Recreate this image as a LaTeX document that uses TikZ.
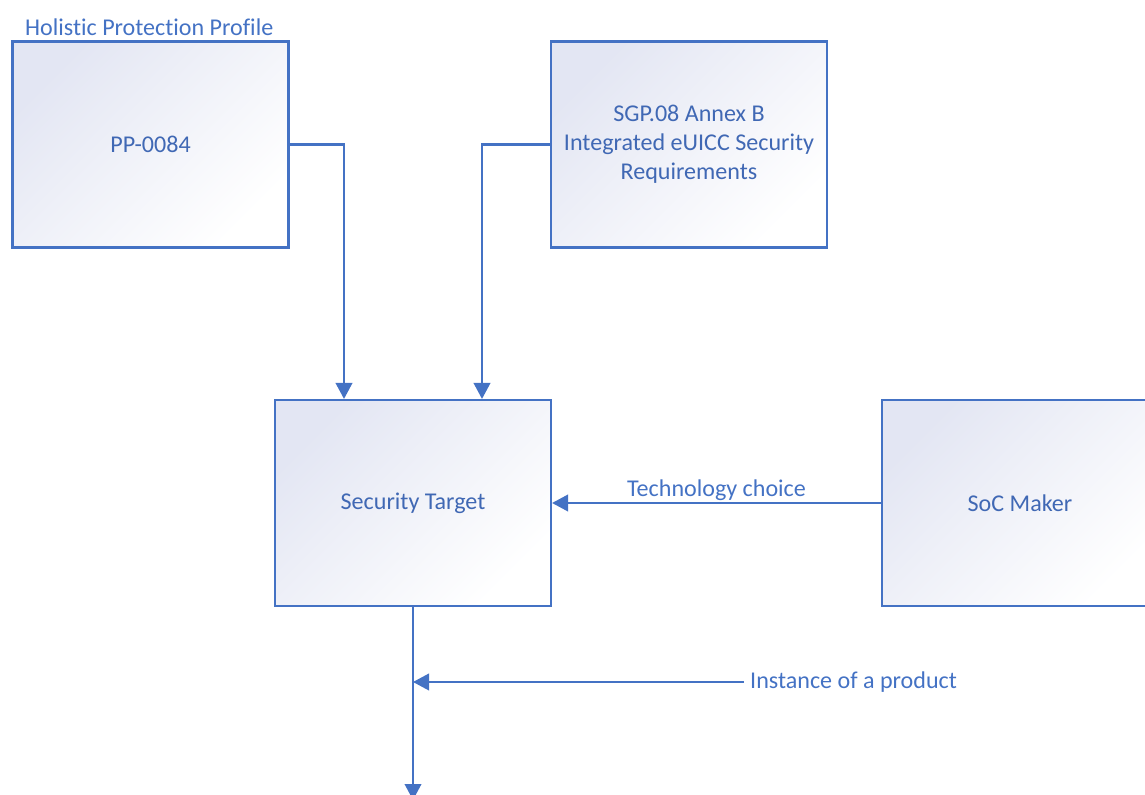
\documentclass[tikz,border=0pt]{standalone}
\usepackage{fontspec}
\setmainfont{Carlito}[Ligatures=NoCommon]
\usetikzlibrary{arrows.meta}

\definecolor{lineblue}{HTML}{4472C4}
\definecolor{textblue}{HTML}{4068B4}
\definecolor{boxtint}{HTML}{E3E6F3}

\begin{document}
\begin{tikzpicture}[
    box/.style={rectangle, draw=lineblue, line width=1.2pt, minimum width=5.52cm, minimum height=4.12cm,
        left color=boxtint, middle color=boxtint!30!white, right color=white, shading angle=45,
        text=textblue, align=center, font=\fontsize{13.7}{16.5}\selectfont},
    lbl/.style={text=lineblue, font=\fontsize{13.7}{16.5}\selectfont},
    arrow/.style={-{Triangle[length=3.2mm,width=3.3mm]}, draw=lineblue, line width=1.3pt}
]
\useasboundingbox (0,0) rectangle (22.9,15.88);
\clip (0,0) rectangle (22.9,15.88);

% Top row: sources
\node[lbl, anchor=west] (hpp) at (0.38,15.34) {Holistic Protection Profile};
\node[box] (pp) at (3.01,12.99) {PP-0084};
\node[box] (sgp) at (13.78,12.99) {SGP.08 Annex B\\Integrated eUICC Security\\Requirements};

% Middle row
\node[box] (st) at (8.26,5.82) {Security Target};
\node[box] (soc) at (20.4,5.82) {SoC Maker};

% Connections
\draw[arrow] (pp.east) -| ([xshift=-1.38cm]st.north);
\draw[arrow] (sgp.west) -| ([xshift=1.38cm]st.north);
\draw[arrow] (soc.west) -- node[lbl, above=-2.5pt] {Technology choice} (st.east);

% Output
\coordinate (prodend) at (8.26,-0.12);
\draw[arrow] (st.south) -- (prodend);
\node[lbl, anchor=west] (inst) at (14.88,2.24) {Instance of a product};
\draw[arrow] (inst.west) -- (inst.west -| st.south);

\end{tikzpicture}
\end{document}
